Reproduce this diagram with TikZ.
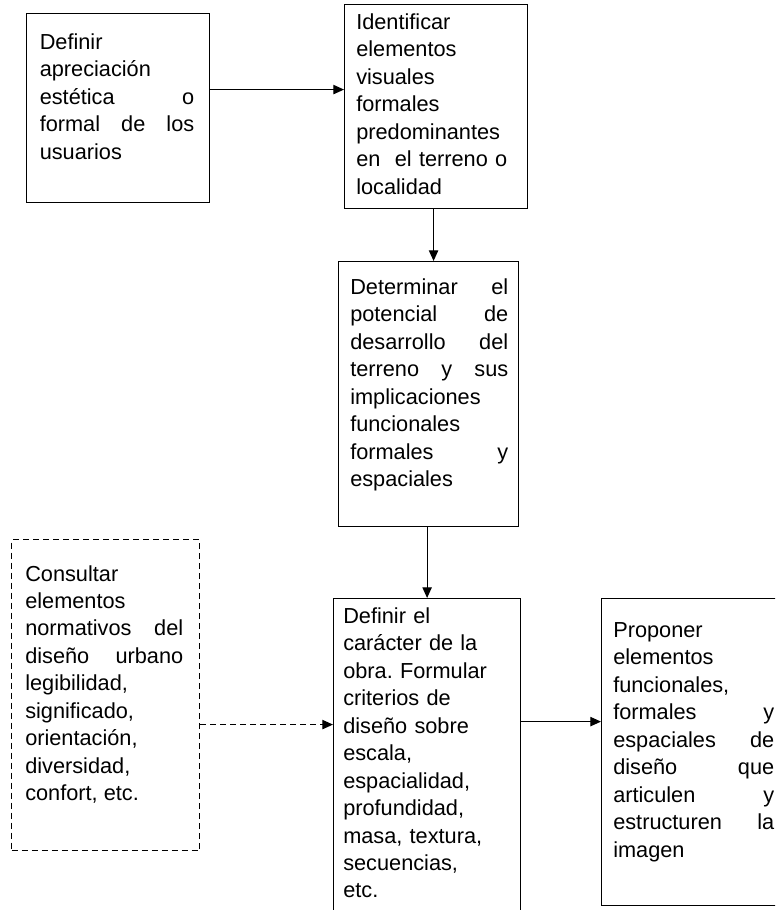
\documentclass[tikz,border=0pt]{standalone}
\usepackage{fontspec}
\setmainfont{Liberation Sans}
\usetikzlibrary{arrows.meta}
\frenchspacing

\begin{document}
\begin{tikzpicture}[x=0.75pt,y=-0.75pt]

  \tikzstyle{block} = [draw, rectangle, anchor=north west, inner sep=0pt, line width=0.9pt]
  \tikzstyle{dashblock} = [block, dash pattern=on 4.5pt off 3pt]
  \tikzstyle{txt} = [anchor=north west, inner sep=0pt, font=\fontsize{16.3pt}{20.6pt}\selectfont]
  \tikzstyle{flow} = [-{Triangle[length=8pt,width=7pt]}, line width=0.9pt]

  \useasboundingbox (0,0) rectangle (775,910);
  \clip (0,0) rectangle (775,910);

  % boxes
  \node[block, minimum width=137.25pt, minimum height=141.75pt] (apreciacion) at (26,13) {};
  \node[block, minimum width=137.25pt, minimum height=153pt] (identificar) at (344,4) {};
  \node[block, minimum width=135pt, minimum height=198.75pt] (potencial) at (338,261) {};
  \node[dashblock, minimum width=141pt, minimum height=233.25pt] (normativos) at (11,539) {};
  \node[block, minimum width=140.25pt, minimum height=247.5pt] (caracter) at (333,598) {};
  \node[block, minimum width=145.5pt, minimum height=230.25pt] (proponer) at (601,598) {};

  % texts
  \node[txt, text width=115.9pt, align=justify] (apreciacion-txt) at (39.5,29.8)
    {\strut Definir\\ apreciación\\ estética\hfill o\\ formal\hfill de\hfill los\\ usuarios};
  \node[txt, text width=120pt, align=left] (identificar-txt) at (356,9.8)
    {\strut Identificar\\ elementos\\ visuales\\ formales\\ predominantes\\ en~~el terreno o\\ localidad};
  \node[txt, text width=118.5pt, align=justify] (potencial-txt) at (350,274.8)
    {\strut Determinar\hfill el\\ potencial\hfill de\\ desarrollo\hfill del\\ terreno\hfill y\hfill sus\\
     implicaciones\\ funcionales\\ formales\hfill y\\ espaciales};
  \node[txt, text width=118.5pt, align=justify] (normativos-txt) at (25,561.5)
    {\strut Consultar\\ elementos\\ normativos\hfill del\\ diseño\hfill urbano\\ legibilidad,\\
     significado,\\ orientación,\\ diversidad,\\ confort, etc.};
  \node[txt, text width=120pt, align=left] (caracter-txt) at (343,603.8)
    {\strut Definir el\\ carácter de la\\ obra. Formular\\ criterios de\\ diseño sobre\\ escala,\\
     espacialidad,\\ profundidad,\\ masa, textura,\\ secuencias,\\ etc.};
  \node[txt, text width=120.75pt, align=justify] (proponer-txt) at (613,617.8)
    {\strut Proponer\\ elementos\\ funcionales,\\ formales\hfill y\\ espaciales\hfill de\\
     diseño\hfill que\\ articulen\hfill y\\ estructuren\hfill la\\ imagen};

  % connectors
  \coordinate (a1) at ([yshift=13.9pt]apreciacion.east);
  \coordinate (b1) at ([xshift=-1.9pt]identificar.south);
  \coordinate (d1) at ([yshift=-22.1pt]normativos.east);
  \coordinate (c1) at ([yshift=31.5pt]caracter.east);

  \draw[flow] (a1) -- (a1 -| identificar.west);
  \draw[flow] (b1) -- (b1 |- potencial.north);
  \draw[flow] (caracter.north |- potencial.south) -- (caracter.north);
  \draw[flow, dash pattern=on 4.5pt off 3pt] (d1) -- (d1 -| caracter.west);
  \draw[flow] (c1) -- (c1 -| proponer.west);

\end{tikzpicture}
\end{document}
